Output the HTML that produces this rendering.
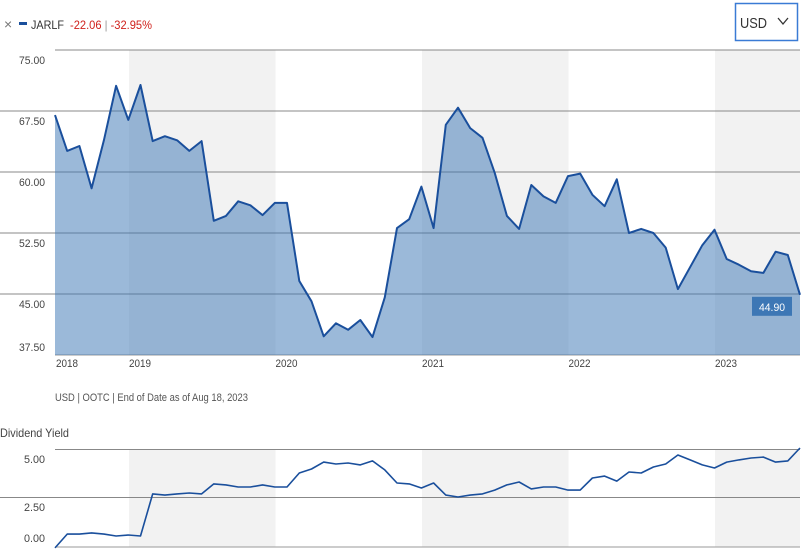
<!DOCTYPE html>
<html><head><meta charset="utf-8"><style>
body{margin:0;background:#fff;width:802px;height:550px;overflow:hidden;font-family:"Liberation Sans",sans-serif;}
svg text{font-family:"Liberation Sans",sans-serif;}
</style></head><body>
<svg id="c" width="802" height="550" xmlns="http://www.w3.org/2000/svg">
<g>
<text x="4" y="29" font-size="14" fill="#777">×</text>
<rect x="19" y="22" width="8" height="3" fill="#1a4f9c"/>
<text x="31" y="29" font-size="12" fill="#333" textLength="33" lengthAdjust="spacingAndGlyphs">JARLF</text>
<text x="70" y="29" font-size="12" fill="#d0211c" textLength="82" lengthAdjust="spacingAndGlyphs">-22.06 <tspan fill="#999">|</tspan> -32.95%</text>
</g>
<g>
<rect x="735.5" y="3.5" width="62" height="37" fill="#fff" stroke="#3a7bd5" stroke-width="1.5"/>
<text x="740" y="28" font-size="15" fill="#333" textLength="27" lengthAdjust="spacingAndGlyphs">USD</text>
<path d="M778 18 l5 6 l5 -6" fill="none" stroke="#333" stroke-width="1.3"/>
</g>
<g id="bands"></g>
<g id="grid"></g>
<g id="series"></g>
<text x="55" y="401" font-size="11" fill="#555" textLength="193" lengthAdjust="spacingAndGlyphs">USD | OOTC | End of Date as of Aug 18, 2023</text>
<text x="0" y="437" font-size="12" fill="#444" textLength="69" lengthAdjust="spacingAndGlyphs">Dividend Yield</text>
</svg>
<script>
const yearLabels=["2018","2019","2020","2021","2022","2023"];
const priceTicks=[37.5,45,52.5,60,67.5,75];
const yieldTicks=[0,2.5,5];
const price=[67.0,62.6,63.2,58.0,63.9,70.6,66.4,70.7,63.8,64.4,63.9,62.6,63.8,54.0,54.6,56.4,55.9,54.7,56.2,56.2,46.6,44.1,39.8,41.4,40.6,41.8,39.7,44.6,53.1,54.2,58.2,53.1,65.8,67.9,65.4,64.2,59.9,54.6,53.0,58.4,57.0,56.2,59.5,59.8,57.2,55.8,59.1,52.5,53.0,52.5,50.7,45.6,48.3,51.0,52.9,49.3,48.6,47.8,47.6,50.2,49.8,44.9];
const yieldVals=[-0.15,0.57,0.57,0.63,0.57,0.47,0.52,0.47,2.66,2.6,2.66,2.71,2.66,3.18,3.13,3.02,3.02,3.13,3.02,3.02,3.75,3.96,4.32,4.22,4.27,4.17,4.38,3.91,3.23,3.18,2.97,3.23,2.6,2.5,2.6,2.66,2.86,3.13,3.28,2.92,3.02,3.02,2.86,2.86,3.49,3.59,3.33,3.8,3.75,4.06,4.22,4.69,4.43,4.17,4.01,4.32,4.43,4.53,4.58,4.32,4.38,5.05];
const NS="http://www.w3.org/2000/svg";
function el(t,a,p){const e=document.createElementNS(NS,t);for(const k in a)e.setAttribute(k,a[k]);document.getElementById(p).appendChild(e);return e;}
const x0=55,x1=800,n=price.length;
const xs=i=>x0+(x1-x0)*i/(n-1);
const yearX=y=>129+(y-2019)*146.5;
const py=v=>50+(75-v)*61/7.5;
const yy=v=>545-v*48/2.5;
[2019,2021,2023].forEach(y=>{
 [[50,355],[449,547]].forEach(r=>{
  const b=el('rect',{x:yearX(y),y:r[0],width:Math.min(146.5,x1-yearX(y)),height:r[1]-r[0],fill:'#f2f2f2'},'bands');
  
  
 });
});
priceTicks.forEach(v=>{
 if(v>37.5){const l=el('line',{x1:v==75?55:0,x2:800,y1:py(v),y2:py(v),stroke:'#888','stroke-width':1},'grid');
 }
 const t=el('text',{x:45,y:py(v)+(v==37.5?-4:(v==75?14:14)),'font-size':11,fill:'#444','text-anchor':'end',textLength:26,lengthAdjust:'spacingAndGlyphs'},'grid');t.textContent=v.toFixed(2);
 
});
const ax=el('line',{x1:55,x2:800,y1:355,y2:355,stroke:'#999'},'grid');

yearLabels.forEach((s,i)=>{const y=2018+i;const x=y==2018?67:yearX(y)+11;
 const t=el('text',{x:x,y:367,'font-size':11,fill:'#444','text-anchor':'middle',textLength:22,lengthAdjust:'spacingAndGlyphs'},'grid');t.textContent=s;
 });
yieldTicks.forEach(v=>{
 if(v>0){const l=el('line',{x1:v==5?55:0,x2:800,y1:yy(v)+0.5,y2:yy(v)+0.5,stroke:'#888'},'grid');
 }
 const t=el('text',{x:45,y:yy(v)+(v==0?-3:14),'font-size':11,fill:'#444','text-anchor':'end',textLength:21,lengthAdjust:'spacingAndGlyphs'},'grid');t.textContent=v.toFixed(2);
 
});
const ax2=el('line',{x1:55,x2:800,y1:547,y2:547,stroke:'#999'},'grid');

let d=price.map((v,i)=>(i?'L':'M')+xs(i).toFixed(1)+' '+py(v).toFixed(1)).join(' ');
const a=el('path',{d:d+` L${x1} 355 L${x0} 355 Z`,fill:'rgb(55,115,180)','fill-opacity':0.5},'series');

const ln=el('path',{d:d,fill:'none',stroke:'#1a4f9c','stroke-width':2,'stroke-linejoin':'round'},'series');

const last=price[n-1];
const bx=el('rect',{x:752,y:py(last)+2,width:40,height:19,fill:'#3d77b5'},'series');

const bt=el('text',{x:772,y:py(last)+16,'font-size':11,fill:'#fff','text-anchor':'middle',textLength:26,lengthAdjust:'spacingAndGlyphs'},'series');bt.textContent=last.toFixed(2);

const dy=yieldVals.map((v,i)=>(i?'L':'M')+xs(i).toFixed(1)+' '+yy(v).toFixed(1)).join(' ');
const yl=el('path',{d:dy,fill:'none',stroke:'#1a4f9c','stroke-width':1.6,'stroke-linejoin':'round'},'series');

</script>
</body></html>
